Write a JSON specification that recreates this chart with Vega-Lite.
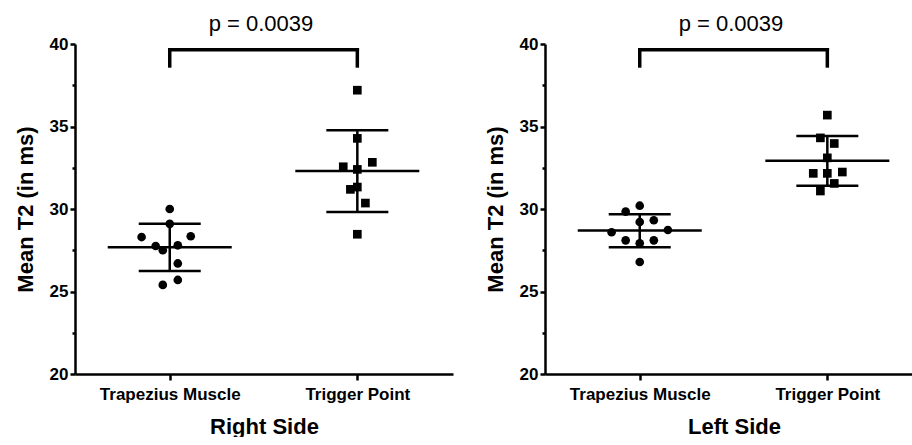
{
  "$schema": "https://vega.github.io/schema/vega-lite/v6.json",
  "background": "white",
  "padding": {"left": 14, "top": 13, "right": 0, "bottom": 0},
  "spacing": 31,
  "config": {
    "font": "Liberation Sans",
    "view": {"stroke": null},
    "axis": {
      "grid": false,
      "domainColor": "black",
      "domainWidth": 2.5,
      "tickColor": "black",
      "tickWidth": 2.5,
      "labelColor": "black",
      "labelFont": "Liberation Sans",
      "labelFontWeight": "bold",
      "labelFontSize": 17,
      "titleColor": "black",
      "titleFont": "Liberation Sans",
      "titleFontWeight": "bold",
      "titleFontSize": 22
    },
    "title": {"font": "Liberation Sans", "fontSize": 22, "fontWeight": "normal", "color": "black", "anchor": "middle", "offset": -1, "dx": -3}
  },
  "datasets": {
    "points": [
      {"side": "Right", "muscle": "Trapezius Muscle", "x": 1.0, "value": 30.0},
      {"side": "Right", "muscle": "Trapezius Muscle", "x": 1.0, "value": 29.1},
      {"side": "Right", "muscle": "Trapezius Muscle", "x": 0.85, "value": 28.3},
      {"side": "Right", "muscle": "Trapezius Muscle", "x": 1.112, "value": 28.35},
      {"side": "Right", "muscle": "Trapezius Muscle", "x": 0.925, "value": 27.76},
      {"side": "Right", "muscle": "Trapezius Muscle", "x": 1.043, "value": 27.8},
      {"side": "Right", "muscle": "Trapezius Muscle", "x": 0.963, "value": 27.5},
      {"side": "Right", "muscle": "Trapezius Muscle", "x": 1.043, "value": 26.7},
      {"side": "Right", "muscle": "Trapezius Muscle", "x": 1.043, "value": 25.7},
      {"side": "Right", "muscle": "Trapezius Muscle", "x": 0.963, "value": 25.4},
      {"side": "Right", "muscle": "Trigger Point", "x": 2.0, "value": 37.2},
      {"side": "Right", "muscle": "Trigger Point", "x": 2.0, "value": 34.28},
      {"side": "Right", "muscle": "Trigger Point", "x": 1.925, "value": 32.56},
      {"side": "Right", "muscle": "Trigger Point", "x": 2.08, "value": 32.83},
      {"side": "Right", "muscle": "Trigger Point", "x": 2.0, "value": 32.4},
      {"side": "Right", "muscle": "Trigger Point", "x": 2.0, "value": 31.33},
      {"side": "Right", "muscle": "Trigger Point", "x": 1.963, "value": 31.19},
      {"side": "Right", "muscle": "Trigger Point", "x": 2.043, "value": 30.36},
      {"side": "Right", "muscle": "Trigger Point", "x": 2.0, "value": 28.47},
      {"side": "Left", "muscle": "Trapezius Muscle", "x": 1.0, "value": 30.2},
      {"side": "Left", "muscle": "Trapezius Muscle", "x": 0.925, "value": 29.84},
      {"side": "Left", "muscle": "Trapezius Muscle", "x": 1.0, "value": 29.21},
      {"side": "Left", "muscle": "Trapezius Muscle", "x": 1.075, "value": 29.32},
      {"side": "Left", "muscle": "Trapezius Muscle", "x": 0.85, "value": 28.59},
      {"side": "Left", "muscle": "Trapezius Muscle", "x": 1.15, "value": 28.73},
      {"side": "Left", "muscle": "Trapezius Muscle", "x": 0.925, "value": 28.1},
      {"side": "Left", "muscle": "Trapezius Muscle", "x": 1.0, "value": 27.92},
      {"side": "Left", "muscle": "Trapezius Muscle", "x": 1.075, "value": 28.1},
      {"side": "Left", "muscle": "Trapezius Muscle", "x": 1.0, "value": 26.79},
      {"side": "Left", "muscle": "Trigger Point", "x": 2.0, "value": 35.69},
      {"side": "Left", "muscle": "Trigger Point", "x": 1.963, "value": 34.31},
      {"side": "Left", "muscle": "Trigger Point", "x": 2.037, "value": 33.97},
      {"side": "Left", "muscle": "Trigger Point", "x": 2.0, "value": 33.1},
      {"side": "Left", "muscle": "Trigger Point", "x": 1.925, "value": 32.16},
      {"side": "Left", "muscle": "Trigger Point", "x": 2.0, "value": 32.16},
      {"side": "Left", "muscle": "Trigger Point", "x": 2.08, "value": 32.24},
      {"side": "Left", "muscle": "Trigger Point", "x": 2.037, "value": 31.55},
      {"side": "Left", "muscle": "Trigger Point", "x": 1.963, "value": 31.09}
    ],
    "stats": [
      {"side": "Right", "muscle": "Trapezius Muscle", "x": 1, "mean": 27.68, "lo": 26.25, "hi": 29.1},
      {"side": "Right", "muscle": "Trigger Point", "x": 2, "mean": 32.3, "lo": 29.82, "hi": 34.77},
      {"side": "Left", "muscle": "Trapezius Muscle", "x": 1, "mean": 28.69, "lo": 27.68, "hi": 29.68},
      {"side": "Left", "muscle": "Trigger Point", "x": 2, "mean": 32.92, "lo": 31.41, "hi": 34.42}
    ],
    "bracket": [
      {"side": "Right", "x": 1, "x2": 2, "y": 39.65, "y2": 39.65},
      {"side": "Right", "x": 1, "x2": 1, "y": 38.67, "y2": 39.65},
      {"side": "Right", "x": 2, "x2": 2, "y": 38.67, "y2": 39.65},
      {"side": "Left", "x": 1, "x2": 2, "y": 39.65, "y2": 39.65},
      {"side": "Left", "x": 1, "x2": 1, "y": 38.67, "y2": 39.65},
      {"side": "Left", "x": 2, "x2": 2, "y": 38.67, "y2": 39.65}
    ]
  },
  "hconcat": [
    {
      "width": 378,
      "height": 330,
      "title": {"text": "p = 0.0039"},
      "layer": [
        {
          "data": {"name": "bracket"},
          "transform": [{"filter": "datum.side === 'Right'"}],
          "mark": {"type": "rule", "strokeWidth": 3.5, "strokeCap": "square", "color": "black"},
          "encoding": {
            "x": {"field": "x", "type": "quantitative", "title": "Right Side", "scale": {"domain": [0.495, 2.51], "nice": false, "zero": false},
              "axis": {"values": [1, 2], "labelExpr": "datum.value === 1 ? 'Trapezius Muscle' : (datum.value === 2 ? 'Trigger Point' : '')", "tickSize": 6, "labelPadding": 6, "titlePadding": 14}},
            "x2": {"field": "x2"},
            "y": {"field": "y", "type": "quantitative", "title": "Mean T2 (in ms)", "scale": {"domain": [20, 40], "nice": false, "zero": false},
              "axis": {"values": [20, 22.5, 25, 27.5, 30, 32.5, 35, 37.5, 40], "labelExpr": "datum.value % 5 === 0 ? datum.label : ''", "tickSize": {"condition": {"test": "datum.value % 5 === 0", "value": 5}, "value": 3}, "labelPadding": 2, "titlePadding": 12}},
            "y2": {"field": "y2"}
          }
        },
        {
          "data": {"name": "stats"},
          "transform": [{"filter": "datum.side === 'Right'"}],
          "mark": {"type": "rule", "strokeWidth": 2.5, "color": "black"},
          "encoding": {
            "x": {"field": "x", "type": "quantitative", "title": "Right Side"},
            "y": {"field": "lo", "type": "quantitative", "title": "Mean T2 (in ms)"},
            "y2": {"field": "hi"}
          }
        },
        {
          "data": {"name": "stats"},
          "transform": [{"filter": "datum.side === 'Right'"}],
          "mark": {"type": "tick", "orient": "horizontal", "size": 124, "thickness": 2.5, "color": "black", "opacity": 1},
          "encoding": {
            "x": {"field": "x", "type": "quantitative", "title": "Right Side"},
            "y": {"field": "mean", "type": "quantitative", "title": "Mean T2 (in ms)"}
          }
        },
        {
          "data": {"name": "stats"},
          "transform": [{"filter": "datum.side === 'Right'"}],
          "mark": {"type": "tick", "orient": "horizontal", "size": 62, "thickness": 2.5, "color": "black", "opacity": 1},
          "encoding": {
            "x": {"field": "x", "type": "quantitative", "title": "Right Side"},
            "y": {"field": "lo", "type": "quantitative", "title": "Mean T2 (in ms)"}
          }
        },
        {
          "data": {"name": "stats"},
          "transform": [{"filter": "datum.side === 'Right'"}],
          "mark": {"type": "tick", "orient": "horizontal", "size": 62, "thickness": 2.5, "color": "black", "opacity": 1},
          "encoding": {
            "x": {"field": "x", "type": "quantitative", "title": "Right Side"},
            "y": {"field": "hi", "type": "quantitative", "title": "Mean T2 (in ms)"}
          }
        },
        {
          "data": {"name": "points"},
          "transform": [{"filter": "datum.side === 'Right'"}],
          "mark": {"type": "point", "filled": true, "size": 75, "color": "black", "opacity": 1},
          "encoding": {
            "x": {"field": "x", "type": "quantitative", "title": "Right Side"},
            "y": {"field": "value", "type": "quantitative", "title": "Mean T2 (in ms)"},
            "shape": {"field": "muscle", "type": "nominal", "scale": {"domain": ["Trapezius Muscle", "Trigger Point"], "range": ["circle", "square"]}, "legend": null}
          }
        }
      ]
    },
    {
      "width": 378,
      "height": 330,
      "title": {"text": "p = 0.0039"},
      "layer": [
        {
          "data": {"name": "bracket"},
          "transform": [{"filter": "datum.side === 'Left'"}],
          "mark": {"type": "rule", "strokeWidth": 3.5, "strokeCap": "square", "color": "black"},
          "encoding": {
            "x": {"field": "x", "type": "quantitative", "title": "Left Side", "scale": {"domain": [0.495, 2.51], "nice": false, "zero": false},
              "axis": {"values": [1, 2], "labelExpr": "datum.value === 1 ? 'Trapezius Muscle' : (datum.value === 2 ? 'Trigger Point' : '')", "tickSize": 6, "labelPadding": 6, "titlePadding": 14}},
            "x2": {"field": "x2"},
            "y": {"field": "y", "type": "quantitative", "title": "Mean T2 (in ms)", "scale": {"domain": [20, 40], "nice": false, "zero": false},
              "axis": {"values": [20, 22.5, 25, 27.5, 30, 32.5, 35, 37.5, 40], "labelExpr": "datum.value % 5 === 0 ? datum.label : ''", "tickSize": {"condition": {"test": "datum.value % 5 === 0", "value": 5}, "value": 3}, "labelPadding": 2, "titlePadding": 12}},
            "y2": {"field": "y2"}
          }
        },
        {
          "data": {"name": "stats"},
          "transform": [{"filter": "datum.side === 'Left'"}],
          "mark": {"type": "rule", "strokeWidth": 2.5, "color": "black"},
          "encoding": {
            "x": {"field": "x", "type": "quantitative", "title": "Left Side"},
            "y": {"field": "lo", "type": "quantitative", "title": "Mean T2 (in ms)"},
            "y2": {"field": "hi"}
          }
        },
        {
          "data": {"name": "stats"},
          "transform": [{"filter": "datum.side === 'Left'"}],
          "mark": {"type": "tick", "orient": "horizontal", "size": 124, "thickness": 2.5, "color": "black", "opacity": 1},
          "encoding": {
            "x": {"field": "x", "type": "quantitative", "title": "Left Side"},
            "y": {"field": "mean", "type": "quantitative", "title": "Mean T2 (in ms)"}
          }
        },
        {
          "data": {"name": "stats"},
          "transform": [{"filter": "datum.side === 'Left'"}],
          "mark": {"type": "tick", "orient": "horizontal", "size": 62, "thickness": 2.5, "color": "black", "opacity": 1},
          "encoding": {
            "x": {"field": "x", "type": "quantitative", "title": "Left Side"},
            "y": {"field": "lo", "type": "quantitative", "title": "Mean T2 (in ms)"}
          }
        },
        {
          "data": {"name": "stats"},
          "transform": [{"filter": "datum.side === 'Left'"}],
          "mark": {"type": "tick", "orient": "horizontal", "size": 62, "thickness": 2.5, "color": "black", "opacity": 1},
          "encoding": {
            "x": {"field": "x", "type": "quantitative", "title": "Left Side"},
            "y": {"field": "hi", "type": "quantitative", "title": "Mean T2 (in ms)"}
          }
        },
        {
          "data": {"name": "points"},
          "transform": [{"filter": "datum.side === 'Left'"}],
          "mark": {"type": "point", "filled": true, "size": 75, "color": "black", "opacity": 1},
          "encoding": {
            "x": {"field": "x", "type": "quantitative", "title": "Left Side"},
            "y": {"field": "value", "type": "quantitative", "title": "Mean T2 (in ms)"},
            "shape": {"field": "muscle", "type": "nominal", "scale": {"domain": ["Trapezius Muscle", "Trigger Point"], "range": ["circle", "square"]}, "legend": null}
          }
        }
      ]
    }
  ]
}
